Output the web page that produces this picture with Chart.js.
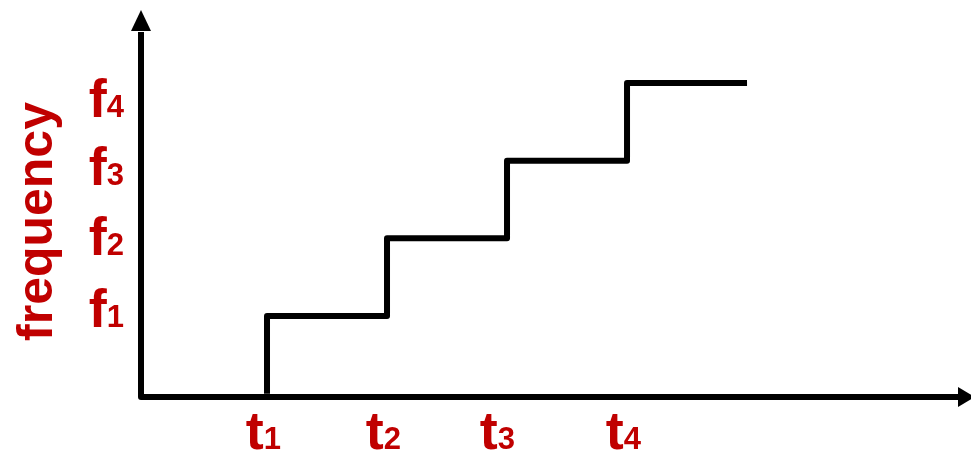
<!DOCTYPE html>
<html>
<head>
<meta charset="utf-8">
<title>frequency steps</title>
<script src="https://cdn.jsdelivr.net/npm/chart.js@4.4.0/dist/chart.umd.min.js"></script>
<style>
    body { margin: 0; background: #fff; }
    canvas { display: block; }
</style>
</head>
<body>
<canvas id="stepChart" width="971" height="452"></canvas>
<script>
// step corners: time index and frequency level (0 = on the time axis)
const stepTimes = [1, 2, 3, 4, 5];
const stepFreqs = [0, 1, 2, 3, 4];

// tick labels (text + subscript) and where their centers sit on each axis
const timeLabels = ['t', 't', 't', 't'];
const timeSubs = ['1', '2', '3', '4'];
const timeLabelAt = [0.97, 1.97, 2.92, 3.97];

const freqLabels = ['f', 'f', 'f', 'f'];
const freqSubs = ['1', '2', '3', '4'];
const freqLabelAt = [1.12, 2.04, 2.94, 3.82];

const axisTitle = 'frequency';

const RED = '#c00000';
const FONT = '"Liberation Sans", Arial, sans-serif';

// draw "t" + small digit on a shared baseline
function drawSubLabel(ctx, main, sub, x, baseline, align) {
    ctx.font = `bold 54px ${FONT}`;
    const w1 = ctx.measureText(main).width;
    ctx.font = `bold 31px ${FONT}`;
    const w2 = ctx.measureText(sub).width;
    const total = w1 + w2;
    let start = x - total / 2;
    if (align === 'right') start = x - total;
    ctx.textAlign = 'left';
    ctx.textBaseline = 'alphabetic';
    ctx.fillStyle = RED;
    ctx.font = `bold 54px ${FONT}`;
    ctx.fillText(main, start, baseline);
    ctx.font = `bold 31px ${FONT}`;
    ctx.fillText(sub, start + w1, baseline);
}

const axesPlugin = {
    id: 'arrowAxes',
    beforeDatasetsDraw(chart) {
        const { ctx, chartArea } = chart;
        const left = chartArea.left;
        const bottom = chartArea.bottom;
        ctx.save();
        ctx.strokeStyle = '#000';
        ctx.fillStyle = '#000';
        ctx.lineWidth = 6;
        ctx.lineJoin = 'round';
        ctx.beginPath();
        ctx.moveTo(left, chartArea.top + 2);
        ctx.lineTo(left, bottom);
        ctx.lineTo(chartArea.right + 2, bottom);
        ctx.stroke();

        // arrow heads
        ctx.beginPath();
        ctx.moveTo(left, chartArea.top - 20);
        ctx.lineTo(left - 10, chartArea.top + 1);
        ctx.lineTo(left + 10, chartArea.top + 1);
        ctx.closePath();
        ctx.fill();

        ctx.beginPath();
        ctx.moveTo(chartArea.right + 17, bottom);
        ctx.lineTo(chartArea.right, bottom - 10);
        ctx.lineTo(chartArea.right, bottom + 10);
        ctx.closePath();
        ctx.fill();
        ctx.restore();
    },
    afterDraw(chart) {
        const { ctx, chartArea, scales } = chart;
        ctx.save();
        timeLabels.forEach((lbl, i) => {
            const x = scales.x.getPixelForValue(timeLabelAt[i]);
            drawSubLabel(ctx, lbl, timeSubs[i], x, chartArea.bottom + 52, 'center');
        });
        freqLabels.forEach((lbl, i) => {
            const y = scales.y.getPixelForValue(freqLabelAt[i]);
            drawSubLabel(ctx, lbl, freqSubs[i], chartArea.left - 17, y + 20, 'right');
        });

        // rotated axis title
        ctx.translate(52, (chartArea.top + chartArea.bottom) / 2 + 8);
        ctx.rotate(-Math.PI / 2);
        ctx.font = `bold 50px ${FONT}`;
        ctx.fillStyle = RED;
        ctx.textAlign = 'center';
        ctx.textBaseline = 'alphabetic';
        ctx.fillText(axisTitle, 0, 0);
        ctx.restore();
    }
};

const ctx = document.getElementById('stepChart').getContext('2d');
const stepChart = new Chart(ctx, {
    type: 'line',
    data: {
        datasets: [{
            data: stepTimes.map((t, i) => ({ x: t, y: stepFreqs[i] })),
            borderColor: '#000',
            borderWidth: 6,
            borderJoinStyle: 'round',
            stepped: 'after',
            pointRadius: 0,
            fill: false,
            clip: false
        }]
    },
    options: {
        responsive: false,
        animation: false,
        devicePixelRatio: 1,
        layout: {
            padding: { left: 141, right: 13, top: 30, bottom: 55 }
        },
        plugins: {
            legend: { display: false },
            tooltip: { enabled: false }
        },
        scales: {
            x: {
                type: 'linear',
                display: false,
                min: -0.05,
                max: 6.758
            },
            y: {
                type: 'linear',
                display: false,
                min: -0.0425,
                max: 4.683
            }
        }
    },
    plugins: [axesPlugin]
});
</script>
</body>
</html>
